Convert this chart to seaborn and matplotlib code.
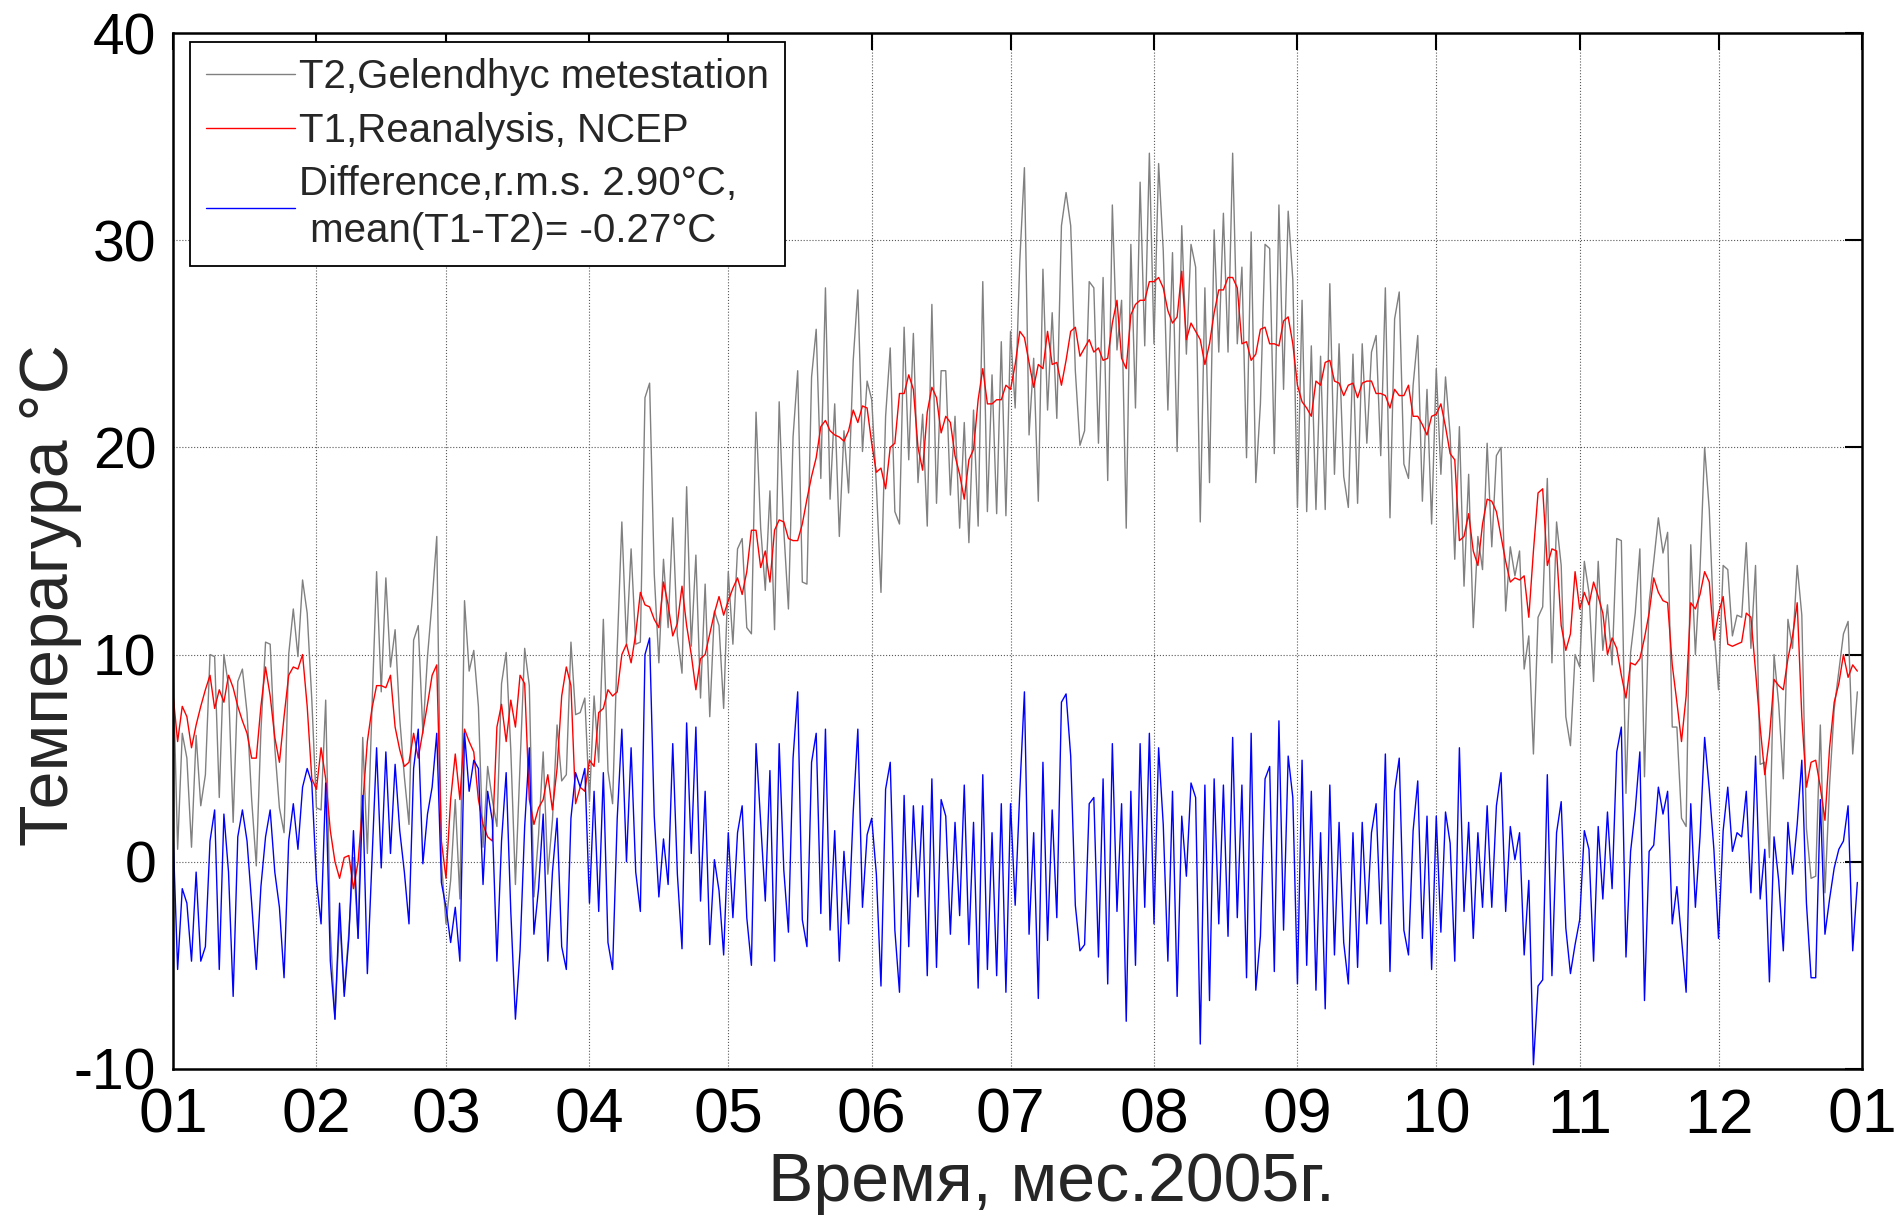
import numpy as np
import pandas as pd
import matplotlib
matplotlib.use("Agg")
import matplotlib.pyplot as plt
import seaborn as sns

# ---------------- data (daily values, day 0 = 1 Jan 2005) ----------------
# T1 : NCEP reanalysis temperature, degC
t1_jan = [8.1, 5.8, 7.5, 7.0, 5.5, 6.6, 7.5, 8.3, 9.0, 7.4, 8.3, 7.7, 9.0, 8.4, 7.5, 6.8,
          6.2, 5.0, 5.0, 7.5, 9.4, 8.0, 6.0, 4.8, 7.0, 9.0, 9.4, 9.3, 10.0, 7.5, 4.0]
t1_feb = [3.5, 5.5, 4.0, 1.5, 0.0, -0.8, 0.2, 0.3, -1.3, 0.0, 2.8, 5.8, 7.4, 8.5, 8.5, 8.4,
          9.0, 6.5, 5.4, 4.6, 4.8, 6.2, 5.0, 6.3, 7.6, 9.0, 9.5, 1.0]
t1_mar = [-0.8, 3.0, 5.2, 3.0, 6.4, 5.8, 5.3, 3.0, 1.8, 1.2, 1.0, 6.5, 7.6, 5.8, 7.8, 6.5,
          9.0, 8.6, 3.0, 1.8, 2.6, 3.0, 4.2, 2.5, 4.5, 8.0, 9.4, 8.5, 2.8, 3.6, 3.4]
t1_apr = [4.9, 4.6, 7.2, 7.4, 8.3, 8.0, 8.2, 10.0, 10.5, 9.6, 11.0, 13.0, 12.4, 12.3, 11.7,
          11.3, 13.5, 12.4, 10.9, 11.5, 13.3, 11.4, 10.0, 8.3, 9.8, 10.0, 11.0, 12.0, 12.8, 11.9]
t1_may = [12.6, 13.2, 13.7, 12.9, 14.0, 16.0, 16.0, 14.2, 15.0, 13.5, 16.0, 16.5, 16.4, 15.6,
          15.5, 15.5, 16.3, 17.5, 18.6, 19.5, 21.0, 21.3, 20.8, 20.6, 20.5, 20.3, 20.8, 21.8,
          21.2, 22.0, 21.9]
t1_jun = [20.2, 18.8, 19.0, 18.0, 20.0, 20.2, 22.6, 22.6, 23.5, 22.8, 20.0, 18.9, 21.7, 22.9,
          22.4, 20.7, 21.5, 21.2, 19.6, 18.7, 17.5, 19.4, 19.9, 22.3, 23.8, 22.1, 22.1, 22.3,
          22.3, 23.0]
t1_jul = [22.8, 24.0, 25.6, 25.3, 24.1, 22.9, 24.0, 23.8, 25.6, 24.0, 24.1, 23.0, 24.2, 25.6,
          25.8, 24.4, 24.8, 25.2, 24.6, 24.8, 24.2, 24.3, 26.0, 27.1, 24.3, 23.8, 26.4, 26.9,
          27.1, 27.1, 28.0]
t1_aug = [28.0, 28.2, 27.7, 26.6, 26.0, 26.3, 28.5, 25.2, 26.0, 25.6, 25.2, 24.0, 25.0, 26.5,
          27.6, 27.6, 28.2, 28.2, 27.7, 25.0, 25.1, 24.2, 24.5, 25.7, 25.8, 25.0, 25.0, 24.9,
          26.1, 26.3, 25.0]
t1_sep = [23.0, 22.2, 21.9, 21.5, 23.2, 23.0, 24.1, 24.2, 23.2, 23.1, 22.5, 23.0, 23.1, 22.4,
          23.1, 23.2, 23.2, 22.6, 22.6, 22.5, 21.9, 22.8, 22.5, 22.5, 23.0, 21.5, 21.5, 21.1,
          20.6, 21.5]
t1_oct = [21.6, 22.1, 21.0, 19.7, 19.4, 15.5, 15.7, 16.8, 15.0, 14.3, 16.3, 17.5, 17.4, 16.9,
          15.7, 14.5, 13.5, 13.7, 13.6, 13.8, 11.8, 15.0, 17.8, 18.0, 14.3, 15.1, 15.0, 11.4,
          10.2, 11.0, 14.0]
t1_nov = [12.2, 13.0, 12.4, 13.5, 12.8, 12.0, 10.0, 10.8, 10.3, 9.0, 7.9, 9.6, 9.5, 9.8, 10.8,
          12.0, 13.7, 13.0, 12.6, 12.5, 9.5, 7.7, 5.8, 8.0, 12.5, 12.2, 12.9, 14.0, 13.5, 10.7]
t1_dec = [12.0, 12.8, 10.5, 10.4, 10.5, 10.6, 12.0, 11.8, 9.2, 6.5, 4.2, 6.0, 8.8, 8.5, 8.3,
          9.8, 10.9, 12.5, 7.0, 3.6, 4.8, 4.9, 3.6, 2.0, 5.5, 7.7, 8.6, 10.0, 8.9, 9.5, 9.2]

# Difference curve (station minus reanalysis), degC
d_jan = [1.5, -5.2, -1.3, -2.0, -4.8, -0.5, -4.8, -4.1, 1.0, 2.5, -5.2, 2.3, -0.5, -6.5, 1.2,
         2.5, 1.0, -2.0, -5.2, -1.2, 1.2, 2.5, -0.5, -2.2, -5.6, 1.0, 2.8, 0.6, 3.6, 4.5, 3.8]
d_feb = [-0.9, -3.0, 3.8, -4.8, -7.6, -2.0, -6.5, -3.7, 1.5, -3.7, 3.2, -5.4, 0.0, 5.5, -0.3,
         5.3, 0.4, 4.7, 1.5, -0.5, -3.0, 4.5, 6.4, -0.1, 2.3, 3.6, 6.2, -1.0]
d_mar = [-2.2, -3.9, -2.2, -4.8, 6.2, 3.4, 4.9, 4.5, -1.1, 3.4, 2.0, -4.8, 1.0, 4.3, -2.4,
         -7.6, -4.3, 1.7, 5.5, -3.5, -1.3, 2.3, -4.8, -0.5, 2.1, -4.1, -5.2, 2.1, 4.3, 3.6, 4.5]
d_apr = [-2.0, 3.4, -2.4, 4.3, -3.9, -5.2, 2.1, 6.4, 0.0, 5.5, -0.5, -2.4, 10.0, 10.8, 2.2,
         -1.7, 1.1, -1.1, 5.7, -0.6, -4.2, 6.7, 0.4, 6.5, -1.9, 3.4, -4.0, 0.1, -1.4, -4.5]
d_may = [1.4, -2.7, 1.4, 2.7, -2.7, -5.0, 5.7, 1.9, -1.9, 4.4, -4.8, 5.7, -0.4, -3.4, 5.0,
         8.2, -2.8, -4.1, 4.8, 6.2, -2.5, 6.4, -3.3, 1.5, -4.8, 0.5, -3.0, 2.4, 6.4, -2.2, 1.3]
d_jun = [2.1, -0.6, -6.0, 3.5, 4.8, -3.3, -6.3, 3.2, -4.1, 2.7, -1.7, 2.7, -5.5, 4.0, -5.1,
         3.0, 2.2, -3.5, 1.9, -2.6, 3.7, -4.0, 1.9, -6.1, 4.2, -5.2, 1.4, -5.5, 2.8, -6.3]
d_jul = [2.8, -2.1, 3.4, 8.2, -3.5, 1.4, -6.6, 4.8, -3.8, 2.5, -2.7, 7.7, 8.1, 5.1, -2.1,
         -4.3, -4.0, 2.8, 3.1, -4.6, 4.0, -5.9, 5.7, -2.4, 2.8, -7.7, 3.4, -5.0, 5.7, -2.2, 6.2]
d_aug = [-3.0, 5.5, 1.8, -4.8, 3.4, -6.5, 2.2, -0.7, 3.8, 3.1, -8.8, 3.7, -6.7, 4.0, -3.0,
         3.7, -3.6, 6.0, -2.7, 3.7, -5.6, 6.2, -6.2, -3.6, 4.0, 4.6, -5.3, 6.8, -3.3, 5.1, 3.1]
d_sep = [-5.9, 4.9, -5.0, 3.4, -6.2, 1.4, -7.1, 3.7, -4.5, 1.9, -3.9, -5.9, 1.4, -5.1, 1.9,
         -3.0, 1.4, 2.8, -3.0, 5.2, -5.3, 3.4, 5.0, -3.3, -4.5, 1.5, 3.9, -3.7, 2.2, -5.2]
d_oct = [2.2, -3.4, 2.4, 0.9, -4.8, 5.5, -2.4, 1.9, -3.7, 1.4, -2.2, 2.7, -2.2, 2.7, 4.3,
         -2.4, 1.7, 0.1, 1.4, -4.5, -0.9, -9.8, -6.0, -5.7, 4.2, -5.5, 1.4, 2.9, -3.2, -5.4, -4.0]
d_nov = [-2.8, 1.5, 0.6, -4.8, 1.7, -1.8, 2.4, -1.3, 5.3, 6.5, -4.6, 0.5, 2.5, 5.3, -6.7,
         0.5, 0.8, 3.6, 2.3, 3.4, -3.0, -1.2, -3.7, -6.3, 2.8, -2.2, 1.2, 6.0, 3.5, 0.6]
d_dec = [-3.7, 1.5, 3.6, 0.5, 1.4, 1.2, 3.4, -1.5, 5.1, -1.8, 0.6, -5.8, 1.2, -0.9, -4.3,
         1.9, -0.6, 1.8, 4.9, -2.0, -5.6, -5.6, 3.0, -3.5, -1.8, -0.3, 0.6, 1.0, 2.7, -4.3, -1.0]

month_starts = [0, 31, 59, 90, 120, 151, 181, 212, 243, 273, 304, 334, 365]
month_labels = ["01", "02", "03", "04", "05", "06", "07", "08", "09", "10", "11", "12", "01"]
y_ticks = [-10, 0, 10, 20, 30, 40]

lab_t2 = "T2,Gelendhyc metestation"
lab_t1 = "T1,Reanalysis, NCEP"
lab_d = "Difference,r.m.s. 2.90\u00b0C,\n mean(T1-T2)= -0.27\u00b0C"

T1 = np.array(t1_jan + t1_feb + t1_mar + t1_apr + t1_may + t1_jun + t1_jul + t1_aug
              + t1_sep + t1_oct + t1_nov + t1_dec)
D = np.array(d_jan + d_feb + d_mar + d_apr + d_may + d_jun + d_jul + d_aug
             + d_sep + d_oct + d_nov + d_dec)
T2 = T1 + D
df = pd.DataFrame({"day": np.arange(len(T1)), "T1": T1, "T2": T2, "D": D})

# ---------------- plot ----------------
sns.set_style("white")
plt.rcParams["font.family"] = ["Liberation Sans", "DejaVu Sans"]
plt.rcParams["axes.unicode_minus"] = False

fig = plt.figure(figsize=(18.99, 12.23), dpi=100)
ax = fig.add_axes([0.0911, 0.126, 0.8894, 0.847])

sns.lineplot(data=df, x="day", y="T2", ax=ax, color=(0.5, 0.5, 0.5), lw=1.0,
             label=lab_t2, estimator=None, sort=False)
sns.lineplot(data=df, x="day", y="T1", ax=ax, color="red", lw=1.0,
             label=lab_t1, estimator=None, sort=False)
sns.lineplot(data=df, x="day", y="D", ax=ax, color="blue", lw=1.0,
             label=lab_d, estimator=None, sort=False)

ax.set_xlim(0, 365)
ax.set_ylim(-10, 40)
ax.set_xticks(month_starts)
ax.set_xticklabels(month_labels, fontsize=45)
ax.set_yticks(y_ticks)
ax.set_yticklabels([str(v) for v in y_ticks], fontsize=41)
ax.tick_params(direction="in", length=12, width=1.5, top=True, right=True,
               colors="black")
ax.tick_params(axis="x", pad=13)
ax.tick_params(axis="y", pad=12)
ax.grid(True, linestyle=":", color="0.35", linewidth=0.8)
for s in ax.spines.values():
    s.set_visible(True)
    s.set_color("black")
    s.set_linewidth(1.8)

ax.set_xlabel("Время, мес.2005г.", fontsize=49)
ax.set_ylabel("Темперагура \u00b0C", fontsize=49)
ax.xaxis.set_label_coords(0.52, -0.079)
ax.yaxis.set_label_coords(-0.054, 0.457)

leg = ax.legend(loc="upper left", bbox_to_anchor=(0.010, 0.991), borderaxespad=0,
                fontsize=29, frameon=True, fancybox=False, framealpha=1,
                edgecolor="black", handlelength=2.2, handletextpad=0.1,
                labelspacing=0.38, borderpad=0.4)
leg.get_frame().set_linewidth(1.3)
for t in leg.get_texts():
    t.set_linespacing(1.3)
for h in leg.get_lines():
    h.set_linewidth(1.0)

fig.savefig("out.png", dpi=100)
